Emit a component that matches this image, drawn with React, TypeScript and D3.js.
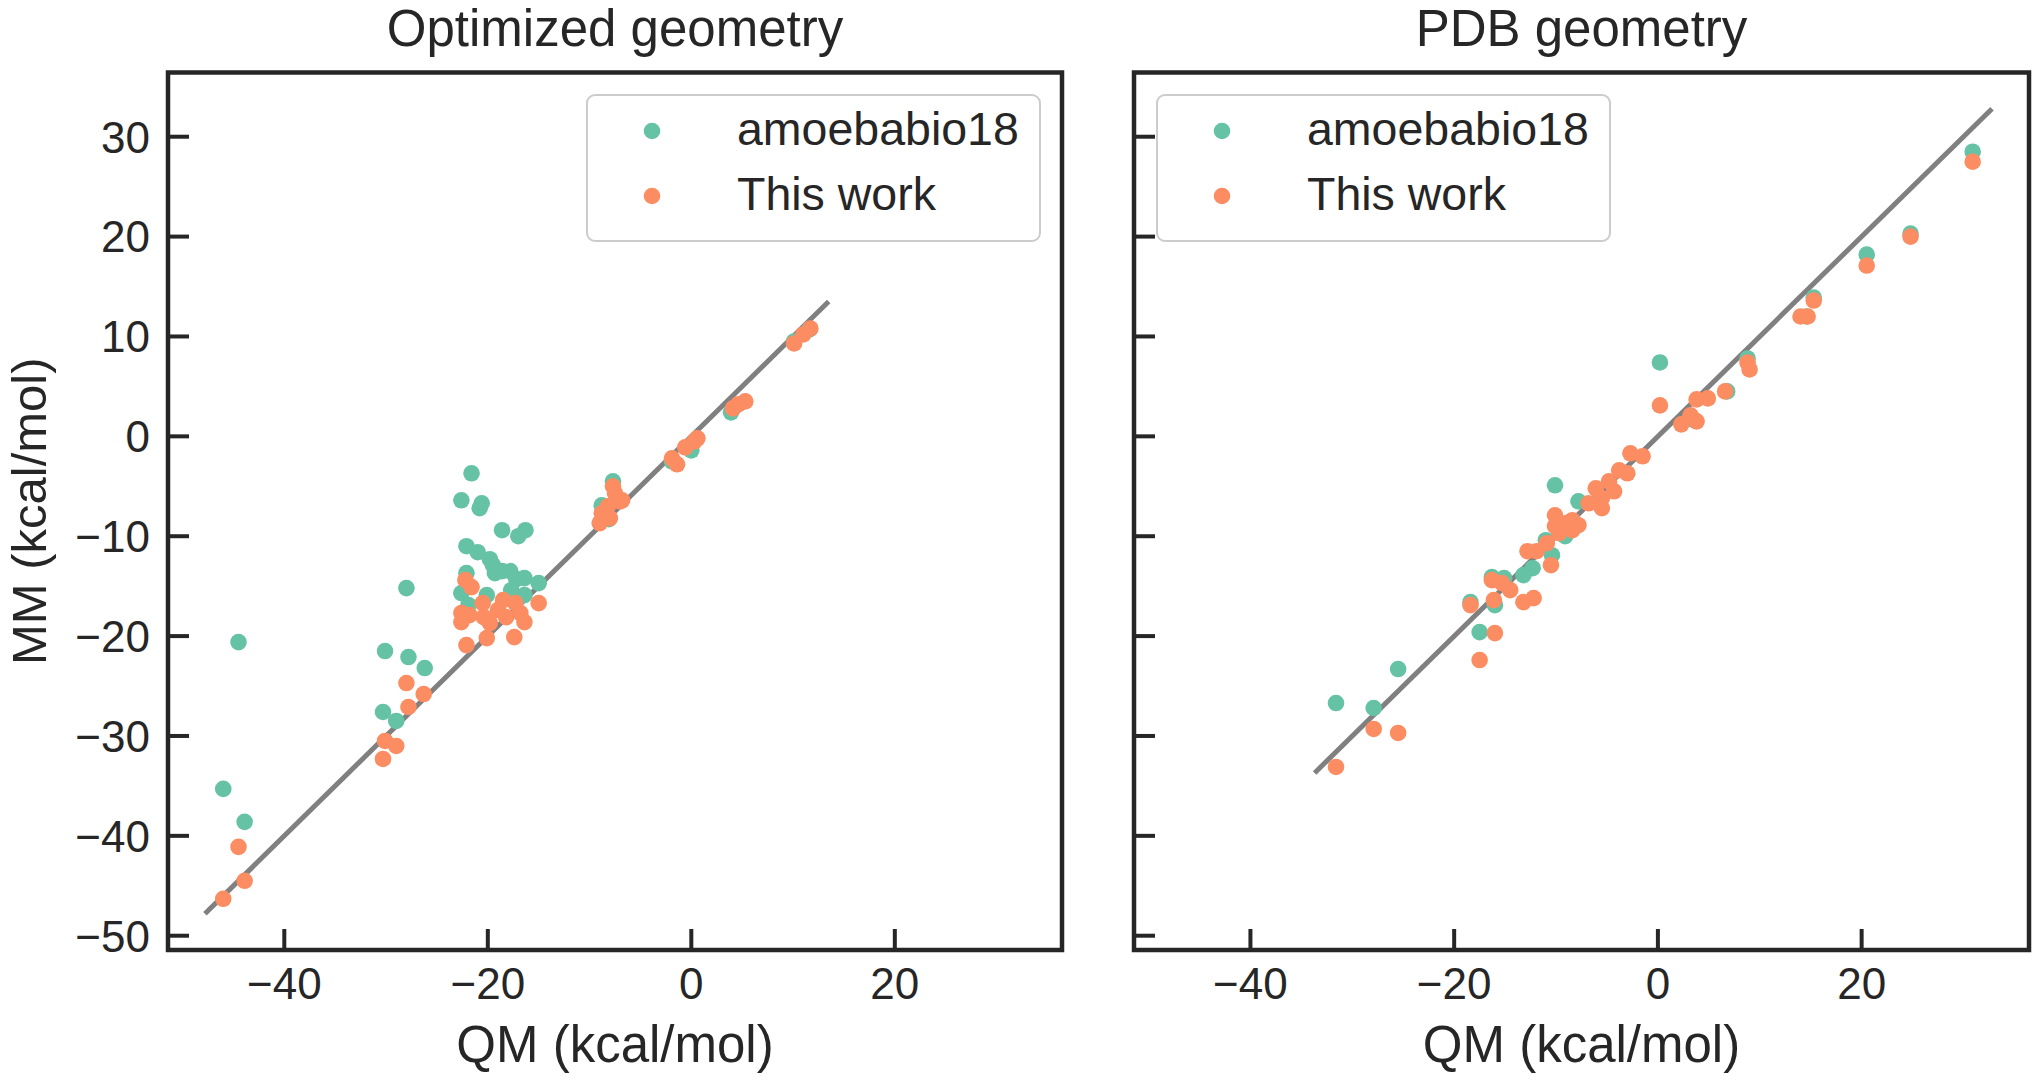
import React from "react";
import * as d3 from "d3";

// ---------- data ----------
const xTicks = [-40, -20, 0, 20];
const yTicks = [-50, -40, -30, -20, -10, 0, 10, 20, 30];
const axisDomain: [number, number] = [-51.43, 36.43];
const seriesNames = ["amoebabio18", "This work"];
const panelTitles = ["Optimized geometry", "PDB geometry"];

// [QM, MM] pairs
const optAmoeba: [number, number][] = [
  [-46.0, -35.3], [-44.5, -20.6], [-43.9, -38.6], [-30.3, -27.6], [-30.1, -21.5], [-29.0, -28.5],
  [-28.0, -15.2], [-27.8, -22.1], [-26.2, -23.2],
  [-21.6, -3.7], [-22.6, -6.4], [-20.6, -6.7], [-20.8, -7.2], [-18.6, -9.4], [-17.0, -10.0],
  [-16.3, -9.4], [-22.1, -11.0], [-21.0, -11.6], [-19.8, -12.3], [-19.5, -12.9], [-18.6, -13.5],
  [-17.8, -13.5], [-19.3, -13.7], [-17.2, -14.3], [-16.4, -14.2], [-15.0, -14.7], [-22.1, -13.7],
  [-22.6, -15.7], [-20.1, -15.9], [-17.7, -15.4], [-16.4, -15.9], [-21.9, -16.9],
  [-7.7, -4.5], [-8.8, -6.9], [-8.1, -8.3], [-1.9, -2.5], [0.0, -1.4], [3.9, 2.4], [10.1, 9.5], [11.6, 10.7],
];
const optThisWork: [number, number][] = [
  [-46.0, -46.3], [-43.9, -44.5], [-44.5, -41.1], [-30.3, -32.3], [-30.1, -30.5], [-29.0, -31.0],
  [-28.0, -24.7], [-27.8, -27.1], [-26.3, -25.8],
  [-22.2, -14.4], [-21.6, -15.1], [-22.6, -17.7], [-22.6, -18.6], [-21.8, -17.9], [-20.5, -16.7],
  [-20.4, -18.1], [-19.8, -18.7], [-19.0, -17.4], [-18.5, -16.4], [-18.2, -18.1], [-17.3, -16.7],
  [-16.8, -17.7], [-16.4, -18.6], [-15.0, -16.7], [-22.1, -20.9], [-20.1, -20.2], [-17.4, -20.1],
  [-7.7, -5.0], [-7.5, -5.7], [-7.0, -6.5], [-8.2, -7.0], [-8.8, -7.7], [-9.0, -8.7], [-8.0, -8.2], [-6.8, -6.4],
  [-1.9, -2.2], [-1.4, -2.8], [-0.6, -1.1], [0.3, -0.5], [0.6, -0.2], [4.1, 2.8], [4.6, 3.2], [5.3, 3.5],
  [10.1, 9.3], [11.0, 10.2], [11.7, 10.8],
];
const pdbAmoeba: [number, number][] = [
  [-31.6, -26.7], [-27.9, -27.2], [-25.5, -23.3],
  [-10.1, -4.9], [-7.8, -6.5], [-18.4, -16.6], [-17.5, -19.6], [-16.3, -14.1], [-16.0, -16.9],
  [-15.1, -14.2], [-13.2, -13.9], [-12.3, -13.2], [-11.0, -10.4], [-10.4, -11.9], [-9.1, -10.0],
  [0.2, 7.4], [3.6, 1.6], [6.8, 4.5], [8.8, 7.8], [14.6, 12.0], [15.3, 13.9], [20.5, 18.2],
  [24.8, 20.3], [30.9, 28.5],
];
const pdbThisWork: [number, number][] = [
  [-31.6, -33.1], [-27.9, -29.3], [-25.5, -29.7],
  [-18.4, -16.9], [-16.0, -19.7], [-17.5, -22.4], [-16.1, -16.4], [-16.3, -14.4], [-15.3, -14.7],
  [-14.5, -15.4], [-13.2, -16.6], [-12.2, -16.2], [-12.8, -11.5], [-11.9, -11.5], [-10.5, -12.9],
  [-10.9, -10.7], [-10.1, -7.9], [-10.1, -9.0], [-9.7, -9.7], [-9.1, -8.7], [-8.4, -8.4],
  [-7.8, -8.9], [-8.4, -9.4], [-6.8, -6.7], [-6.1, -5.2], [-5.5, -6.2], [-5.5, -7.2], [-4.8, -4.5],
  [-4.3, -5.5], [-3.8, -3.4], [-3.0, -3.7], [-2.7, -1.7], [-1.5, -2.0],
  [0.2, 3.1], [2.3, 1.2], [3.2, 2.1], [3.8, 1.5], [3.8, 3.7], [4.9, 3.8], [6.6, 4.5], [8.8, 7.4],
  [9.0, 6.7], [14.0, 12.0], [14.7, 12.0], [15.3, 13.6], [20.5, 17.1], [24.8, 20.0], [30.9, 27.5],
];
const optLine = [-47.8, 13.5];
const pdbLine = [-33.7, 32.8];

// ---------- style ----------
const GREEN = "#66c2a5";
const ORANGE = "#fc8d62";
const DARK = "#262626";
const FONT = "'Liberation Sans', Arial, Helvetica, sans-serif";
const R = 8.3;

const TOP = 72.5;
const BOTTOM = 950;
const panelsX: [number, number][] = [
  [168, 1062],
  [1134, 2029],
];

const fmt = (v: number) => (v < 0 ? "\u2212" + Math.abs(v) : String(v));

function Panel({ idx, amoeba, work, line, legendLeft }: any) {
  const [x0, x1] = panelsX[idx];
  const x = d3.scaleLinear().domain(axisDomain).range([x0, x1]);
  const y = d3.scaleLinear().domain(axisDomain).range([BOTTOM, TOP]);
  const lw = 453;
  const lx = legendLeft ? x0 + 23 : x1 - 22 - lw;
  const ly = 95;
  const lineGen = d3.line<number>().x((d) => x(d)).y((d) => y(d));
  return (
    <g>
      <text x={(x0 + x1) / 2} y={46} textAnchor="middle" fontSize={51} fill={DARK} fontFamily={FONT}>
        {panelTitles[idx]}
      </text>
      <path d={lineGen(line) || ""} stroke="#808080" strokeWidth={5} fill="none" />
      {amoeba.map((d: [number, number], i: number) => (
        <circle key={"a" + i} cx={x(d[0])} cy={y(d[1])} r={R} fill={GREEN} />
      ))}
      {work.map((d: [number, number], i: number) => (
        <circle key={"w" + i} cx={x(d[0])} cy={y(d[1])} r={R} fill={ORANGE} />
      ))}
      {yTicks.map((t) => (
        <line key={"yt" + t} x1={x0} x2={x0 + 21} y1={y(t)} y2={y(t)} stroke={DARK} strokeWidth={4} />
      ))}
      {xTicks.map((t) => (
        <line key={"xt" + t} x1={x(t)} x2={x(t)} y1={BOTTOM} y2={BOTTOM - 21} stroke={DARK} strokeWidth={4} />
      ))}
      {xTicks.map((t) => (
        <text key={"xl" + t} x={x(t)} y={999} textAnchor="middle" fontSize={44} fill={DARK} fontFamily={FONT}>
          {fmt(t)}
        </text>
      ))}
      {idx === 0 &&
        yTicks.map((t) => (
          <text key={"yl" + t} x={150} y={y(t) + 15.8} textAnchor="end" fontSize={44} fill={DARK} fontFamily={FONT}>
            {fmt(t)}
          </text>
        ))}
      <rect x={x0} y={TOP} width={x1 - x0} height={BOTTOM - TOP} fill="none" stroke={DARK} strokeWidth={4.5} />
      <text x={(x0 + x1) / 2} y={1062} textAnchor="middle" fontSize={51} fill={DARK} fontFamily={FONT}>
        QM (kcal/mol)
      </text>
      <rect x={lx} y={ly} width={lw} height={146} rx={8} fill="white" fillOpacity={0.8} stroke="#cccccc" strokeWidth={2} />
      {[GREEN, ORANGE].map((c, i) => (
        <g key={"lg" + i}>
          <circle cx={lx + 65} cy={ly + 36 + i * 65} r={R} fill={c} />
          <text x={lx + 150} y={ly + 50 + i * 65} fontSize={46.5} fill={DARK} fontFamily={FONT}>
            {seriesNames[i]}
          </text>
        </g>
      ))}
    </g>
  );
}

export default function App() {
  return (
    <svg
      width={2040}
      height={1081}
      style={{ position: "absolute", left: 0, top: 0, background: "white" }}
      fontFamily={FONT}
    >
      <rect width={2040} height={1081} fill="white" />
      <text
        transform={`translate(46, ${(TOP + BOTTOM) / 2}) rotate(-90)`}
        textAnchor="middle"
        fontSize={49}
        fill={DARK}
        fontFamily={FONT}
      >
        MM (kcal/mol)
      </text>
      <Panel idx={0} amoeba={optAmoeba} work={optThisWork} line={optLine} legendLeft={false} />
      <Panel idx={1} amoeba={pdbAmoeba} work={pdbThisWork} line={pdbLine} legendLeft={true} />
    </svg>
  );
}
